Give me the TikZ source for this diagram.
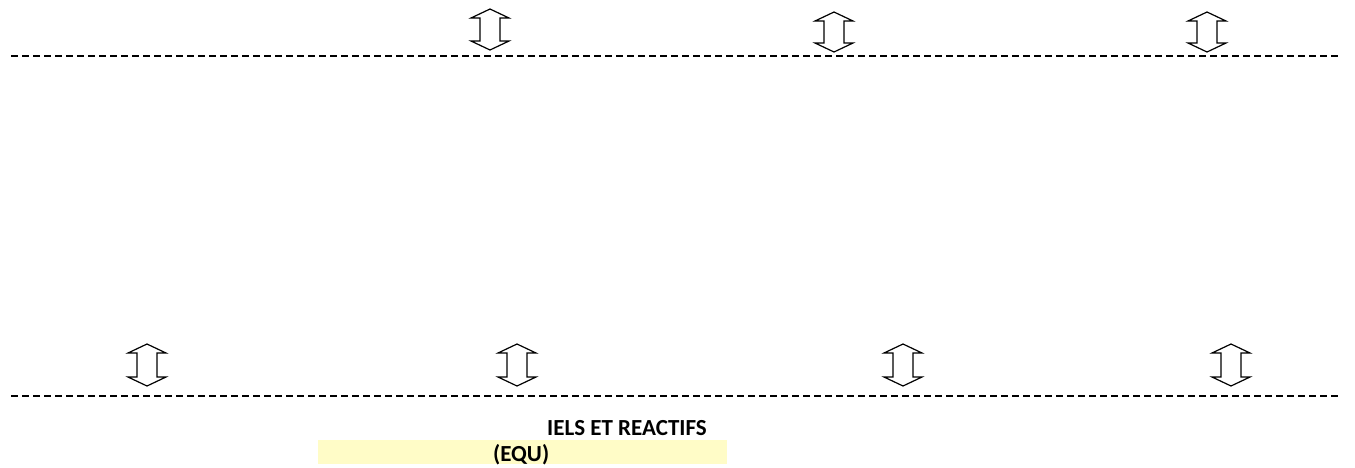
\documentclass[tikz,border=0pt]{standalone}
\usepackage{fontspec}
\setmainfont{Carlito}
\usepackage{tikz}
\usepackage{color}
\definecolor{band}{rgb}{1.0,0.99,0.78}

\begin{document}
\begin{tikzpicture}[x=1pt, y=-1pt,
	sep line/.style={line width=1.5pt, dash pattern=on 6.5pt off 4.5pt},
	dbl arrow/.style={line width=1.2pt, line join=miter, fill=white},
	label text/.style={font=\fontsize{23}{27}\selectfont\bfseries, inner sep=0pt}]
		\useasboundingbox (0,0) rectangle (1355,467);
		% separators
		\coordinate (top left) at (11,56);
		\coordinate (top right) at (1338,56);
		\coordinate (bot left) at (11,396);
		\coordinate (bot right) at (1338,396);
		\draw[sep line] (top left) -- (top right);
		\draw[sep line] (bot left) -- (bot right);
		% double arrows: centre, top, bottom
		\foreach \c/\t/\b in {490/9/50, 834/12/52, 1207/12/52,
		                      147/344/386, 517/344/386, 903/344/386, 1231/344/386}{
		  \draw[dbl arrow] (\c,\t) -- (\c+19,\t+9) -- (\c+10,\t+9) -- (\c+10,\b-9)
		      -- (\c+19,\b-9) -- (\c,\b) -- (\c-19,\b-9) -- (\c-10,\b-9)
		      -- (\c-10,\t+9) -- (\c-19,\t+9) -- cycle;
		}
		% caption
		\fill[band] (318,440) rectangle (727,464);
		\node[label text, anchor=base west] (title) at (547,435) {IELS ET REACTIFS};
		\node[label text, anchor=base west] (equ) at (493,461) {(EQU)};
	\end{tikzpicture}
\end{document}
